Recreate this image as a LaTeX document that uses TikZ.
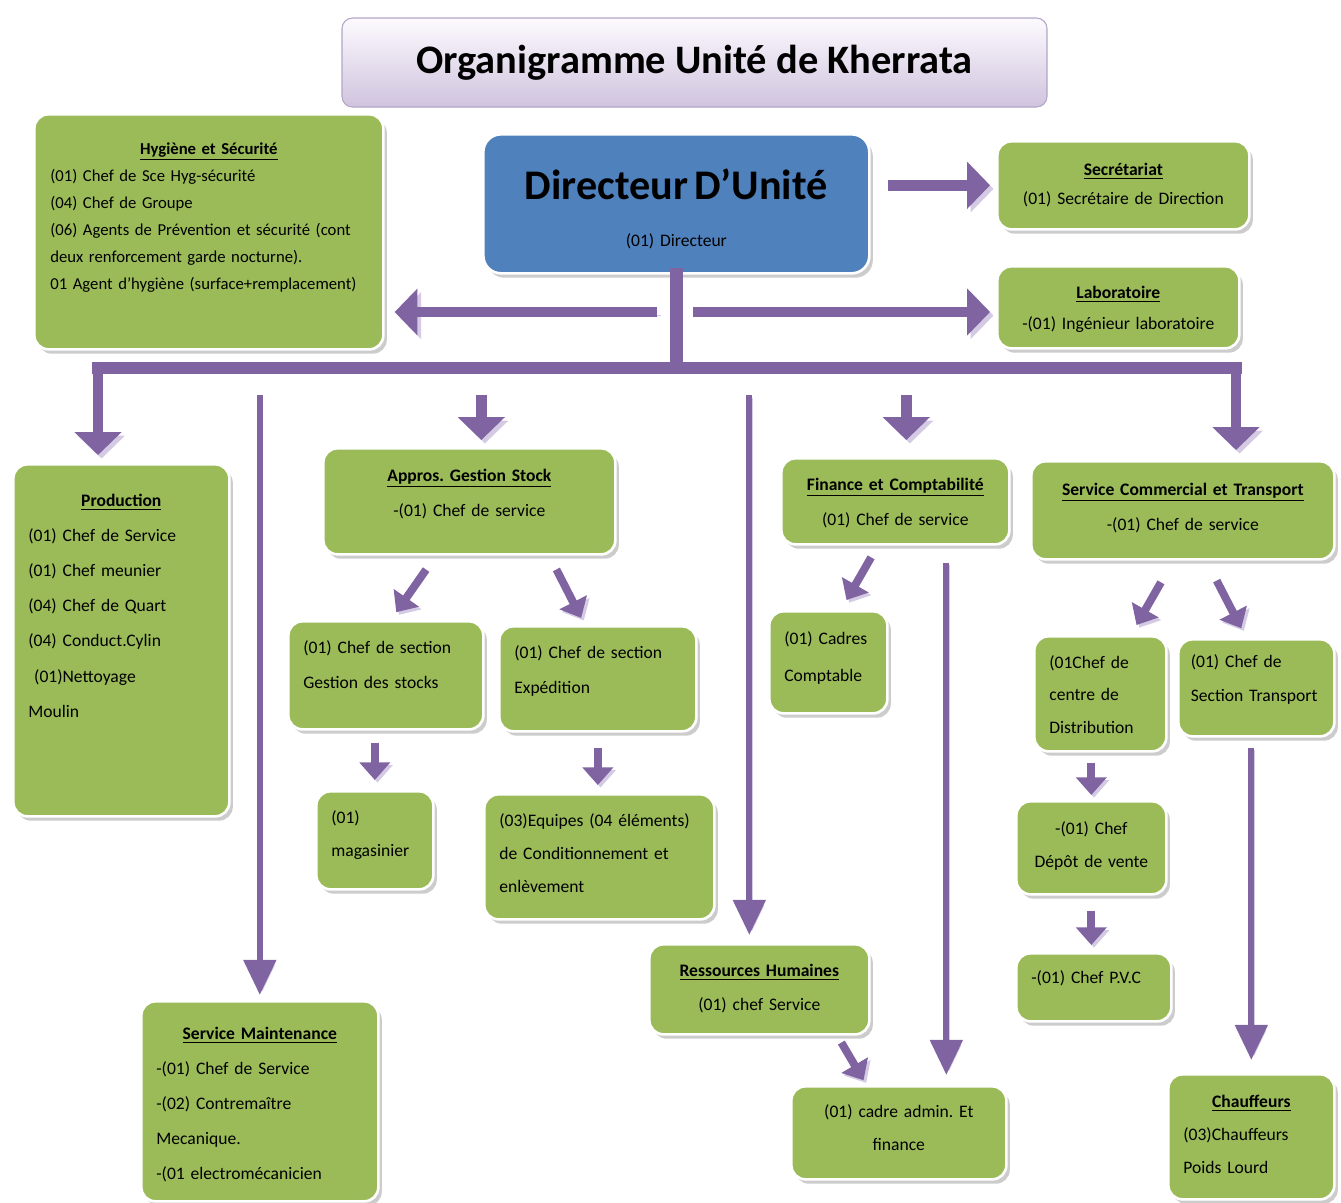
\documentclass[tikz,border=0pt]{standalone}
\usepackage{fontspec}
\setmainfont{Carlito}
\usepackage{tikz}
\usetikzlibrary{arrows.meta, shadows}
\frenchspacing
\definecolor{orgpurple}{RGB}{128,100,162}
\definecolor{orgshade}{RGB}{212,202,228}
\definecolor{orggreen}{RGB}{155,187,89}
\definecolor{orgblue}{RGB}{79,129,189}
\definecolor{orgtitletop}{RGB}{252,250,254}
\definecolor{orgtitlebot}{RGB}{208,196,222}
\definecolor{orgtitleline}{RGB}{178,166,198}
\newcommand{\orghead}[1]{\underline{\textbf{#1}}}
\tikzset{
  box/.style={rectangle, draw=white, fill=orggreen, line width=1.5pt,
    rounded corners=8pt, anchor=north west, inner xsep=0.3cm, inner ysep=0pt,
    align=left, font=\fontsize{10}{19}\selectfont,
    drop shadow={shadow xshift=2pt, shadow yshift=-2.5pt, opacity=0.4}},
  centerbox/.style={box, align=center},
  dirbox/.style={box, fill=orgblue, align=center, rounded corners=10pt},
  titlebox/.style={rectangle, draw=orgtitleline, line width=0.6pt, rounded corners=6pt,
    top color=orgtitletop, bottom color=orgtitlebot, minimum width=14.1cm,
    minimum height=1.78cm, font=\fontsize{23}{28}\selectfont\bfseries},
  busline/.style={line width=0.25cm, color=orgpurple, line cap=rect,
    preaction={draw=orgshade, transform canvas={shift={(0pt,-3pt)}}}},
  bigarrow/.style={-{Triangle[length=13pt, width=26pt]}, line width=6pt, color=orgpurple,
    preaction={draw=orgshade, -{Triangle[length=13pt, width=26pt]},
      transform canvas={shift={(2pt,-2pt)}}}},
  midarrow/.style={-{Triangle[length=10pt, width=17pt]}, line width=4.5pt, color=orgpurple,
    preaction={draw=orgshade, -{Triangle[length=10pt, width=17pt]},
      transform canvas={shift={(1.5pt,-1.5pt)}}}},
  thinarrow/.style={-{Triangle[length=20pt, width=18pt]}, line width=3.5pt, color=orgpurple,
    preaction={draw=orgshade, -{Triangle[length=20pt, width=18pt]},
      transform canvas={shift={(1.5pt,-1.5pt)}}}}
}

\begin{document}
\begin{tikzpicture}
  \useasboundingbox (0,0) rectangle (26.82,-24.04);

  % Title
  \node[titlebox] (title) at (13.89,-1.25) {Organigramme Unité de Kherrata};

  % Direction
  \node[dirbox, text width=7.12cm, text height=1.3cm, text depth=1.48cm] (dir) at (9.64,-2.66) {
    {\fontsize{24}{28}\selectfont\bfseries Directeur D’Unité}\\[0.27cm]
    (01) Directeur
  };
  \node[box, inner xsep=0.32cm, text width=6.34cm, text height=0.8cm, text depth=3.9cm, font=\fontsize{9.5}{15.4}\selectfont] (hyg) at (0.66,-2.26) {
    \makebox[\linewidth]{\orghead{Hygiène et Sécurité}}\\
    (01) Chef de Sce  Hyg-sécurité\\
    (04) Chef de Groupe\\
    (06) Agents de  Prévention et sécurité (cont\\
    deux  renforcement garde nocturne).\\
    01 Agent d’hygiène (surface+remplacement)
  };
  \node[centerbox, text width=4.44cm, text height=0.68cm, text depth=1.08cm, font=\fontsize{10}{16.5}\selectfont] (sec) at (19.92,-2.8) {
    \orghead{Secrétariat}\\
    (01) Secrétaire de Direction
  };
  \node[centerbox, text width=4.24cm, text height=0.64cm, text depth=1.0cm, font=\fontsize{10}{17.6}\selectfont] (lab) at (19.92,-5.3) {
    \orghead{Laboratoire}\\
    -(01) Ingénieur laboratoire
  };

  % Production and stocks
  \node[box, text width=3.72cm, text height=0.84cm, text depth=6.2cm, font=\fontsize{10}{20}\selectfont] (prod) at (0.24,-9.26) {
    \makebox[\linewidth]{\orghead{Production}}\\
    (01) Chef de Service\\
    (01) Chef meunier\\
    (04) Chef de Quart\\
    (04) Conduct.Cylin\\
    \ (01)Nettoyage\\
    Moulin
  };
  \node[centerbox, text width=5.24cm, text height=0.66cm, text depth=1.46cm, font=\fontsize{10}{20}\selectfont] (appros) at (6.44,-8.94) {
    \orghead{Appros. Gestion Stock}\\
    -(01) Chef de service
  };
  \node[box, text width=3.3cm, text height=0.64cm, text depth=1.52cm, font=\fontsize{10}{20}\selectfont] (gest) at (5.74,-12.4) {
    (01) Chef  de section\\
    Gestion des stocks
  };
  \node[box, text width=3.34cm, text height=0.64cm, text depth=1.46cm, font=\fontsize{10}{20}\selectfont] (exped) at (9.96,-12.5) {
    (01) Chef de section\\
    Expédition
  };
  \node[box, text width=1.74cm, text height=0.64cm, text depth=1.32cm] (mag) at (6.3,-15.8) {
    (01)\\
    magasinier
  };
  \node[box, text width=4.0cm, text height=0.64cm, text depth=1.86cm, font=\fontsize{10}{18.7}\selectfont] (equip) at (9.66,-15.86) {
    (03)Equipes (04 éléments)\\
    de Conditionnement et\\
    enlèvement
  };

  % Finance and commercial
  \node[centerbox, text width=3.96cm, text height=0.64cm, text depth=1.08cm, font=\fontsize{10}{20}\selectfont] (fin) at (15.6,-9.14) {
    \orghead{Finance et Comptabilité}\\
    (01) Chef de service
  };
  \node[box, text width=1.76cm, text height=0.66cm, text depth=1.38cm, font=\fontsize{10}{21}\selectfont] (cadres) at (15.36,-12.2) {
    (01) Cadres\\
    Comptable
  };
  \node[centerbox, text width=5.46cm, text height=0.68cm, text depth=1.28cm, font=\fontsize{10}{20}\selectfont] (comm) at (20.6,-9.2) {
    \orghead{Service Commercial et Transport}\\
    -(01) Chef de service
  };
  \node[box, text width=2.04cm, text height=0.64cm, text depth=1.66cm, font=\fontsize{10}{18.5}\selectfont] (centre) at (20.66,-12.7) {
    (01Chef de\\
    centre de\\
    Distribution
  };
  \node[box, inner xsep=0.25cm, text width=2.62cm, text height=0.56cm, text depth=1.38cm, font=\fontsize{10}{19.3}\selectfont] (transp) at (23.54,-12.76) {
    (01) Chef de\\
    Section Transport
  };
  \node[centerbox, text width=2.4cm, text height=0.66cm, text depth=1.2cm, font=\fontsize{10}{18.7}\selectfont] (depot) at (20.3,-16.0) {
    -(01) Chef\\
    Dépôt de vente
  };
  \node[box, text width=2.5cm, text height=0.6cm, text depth=0.76cm] (pvc) at (20.3,-19.04) {
    -(01) Chef P.V.C
  };
  \node[box, text width=2.72cm, text height=0.66cm, text depth=1.84cm, font=\fontsize{10}{18.7}\selectfont] (chauf) at (23.34,-21.46) {
    \makebox[\linewidth]{\orghead{Chauffeurs}}\\
    (03)Chauffeurs\\
    Poids Lourd
  };

  % Human resources and maintenance
  \node[centerbox, text width=3.8cm, text height=0.64cm, text depth=1.16cm, font=\fontsize{10}{19.3}\selectfont] (rh) at (12.96,-18.86) {
    \orghead{Ressources Humaines}\\
    (01) chef Service
  };
  \node[centerbox, text width=3.7cm, text height=0.62cm, text depth=1.24cm, font=\fontsize{10}{18.7}\selectfont] (admin) at (15.8,-21.7) {
    (01) cadre admin. Et\\
    finance
  };
  \node[box, text width=4.14cm, text height=0.76cm, text depth=3.24cm, font=\fontsize{10}{20}\selectfont] (maint) at (2.8,-20.0) {
    \makebox[\linewidth]{\orghead{Service Maintenance}}\\
    -(01) Chef de Service\\
    -(02) Contremaître\\
    Mecanique.\\
    -(01 electromécanicien
  };

  % Bus
  \coordinate (hub) at (13.5,-6.24);
  \coordinate (busL) at (1.96,-7.36);
  \coordinate (busR) at (24.72,-7.36);
  \draw[busline] (dir.south) -- (dir.south |- busL);
  \draw[busline] (busL) -- (busR);

  % Arrows
  \draw[bigarrow, shorten <=0.34cm, shorten >=0.12cm] (dir.east |- sec.west) -- (sec.west);
  \draw[bigarrow, shorten <=0.36cm, shorten >=0.2cm] (hub) -- (hyg.east |- hub);
  \draw[bigarrow, shorten <=0.36cm, shorten >=0.12cm] (hub) -- (lab.west |- hub);
  \draw[bigarrow, shorten >=0.16cm] (busL) -- (busL |- prod.north);
  \draw[bigarrow, shorten >=0.2cm] (busR) -- (busR |- comm.north);
  \draw[bigarrow, shorten <=0.54cm, shorten >=0.14cm] ([xshift=0.24cm]appros.north |- busL) -- ([xshift=0.24cm]appros.north);
  \draw[bigarrow, shorten <=0.54cm, shorten >=0.34cm] ([xshift=0.22cm]fin.north |- busL) -- ([xshift=0.22cm]fin.north);
  \draw[thinarrow, shorten <=0.54cm, shorten >=0.1cm] (maint.north |- busL) -- (maint.north);
  \draw[thinarrow, shorten <=0.54cm, shorten >=0.16cm] ([xshift=-0.2cm]rh.north |- busL) -- ([xshift=-0.2cm]rh.north);

  \draw[midarrow, shorten <=0.34cm, shorten >=0.19cm] ([xshift=-0.67cm]appros.south) -- ([xshift=0.1cm]gest.north);
  \draw[midarrow, shorten <=0.31cm, shorten >=0.16cm] ([xshift=1.6cm]appros.south) -- ([xshift=-0.26cm]exped.north);
  \draw[midarrow, shorten <=0.24cm, shorten >=0.2cm] (mag.north |- gest.south) -- (mag.north);
  \draw[midarrow, shorten <=0.3cm, shorten >=0.16cm] (exped.south) -- (exped.south |- equip.north);
  \draw[midarrow, shorten <=0.27cm, shorten >=0.23cm] ([xshift=-0.35cm]fin.south) -- ([xshift=0.25cm]cadres.north);
  \draw[thinarrow, shorten <=0.34cm, shorten >=0.2cm] ([xshift=1.02cm]fin.south) -- ([xshift=1.02cm]fin.south |- admin.north);
  \draw[midarrow, shorten <=0.5cm, shorten >=0.23cm] ([xshift=-0.19cm]comm.south) -- ([xshift=0.61cm]centre.north);
  \draw[midarrow, shorten <=0.45cm, shorten >=0.22cm] ([xshift=0.47cm]comm.south) -- ([xshift=-0.2cm]transp.north);
  \draw[midarrow, shorten <=0.2cm, shorten >=0.1cm] (depot.north |- centre.south) -- (depot.north);
  \draw[midarrow, shorten <=0.3cm, shorten >=0.14cm] (depot.south) -- (depot.south |- pvc.north);
  \draw[thinarrow, shorten <=0.2cm, shorten >=0.26cm] (chauf.north |- transp.south) -- (chauf.north);
  \draw[midarrow, shorten <=0.16cm, shorten >=0.11cm] ([xshift=1.56cm]rh.south) -- ([xshift=-0.65cm]admin.north);
\end{tikzpicture}
\end{document}
